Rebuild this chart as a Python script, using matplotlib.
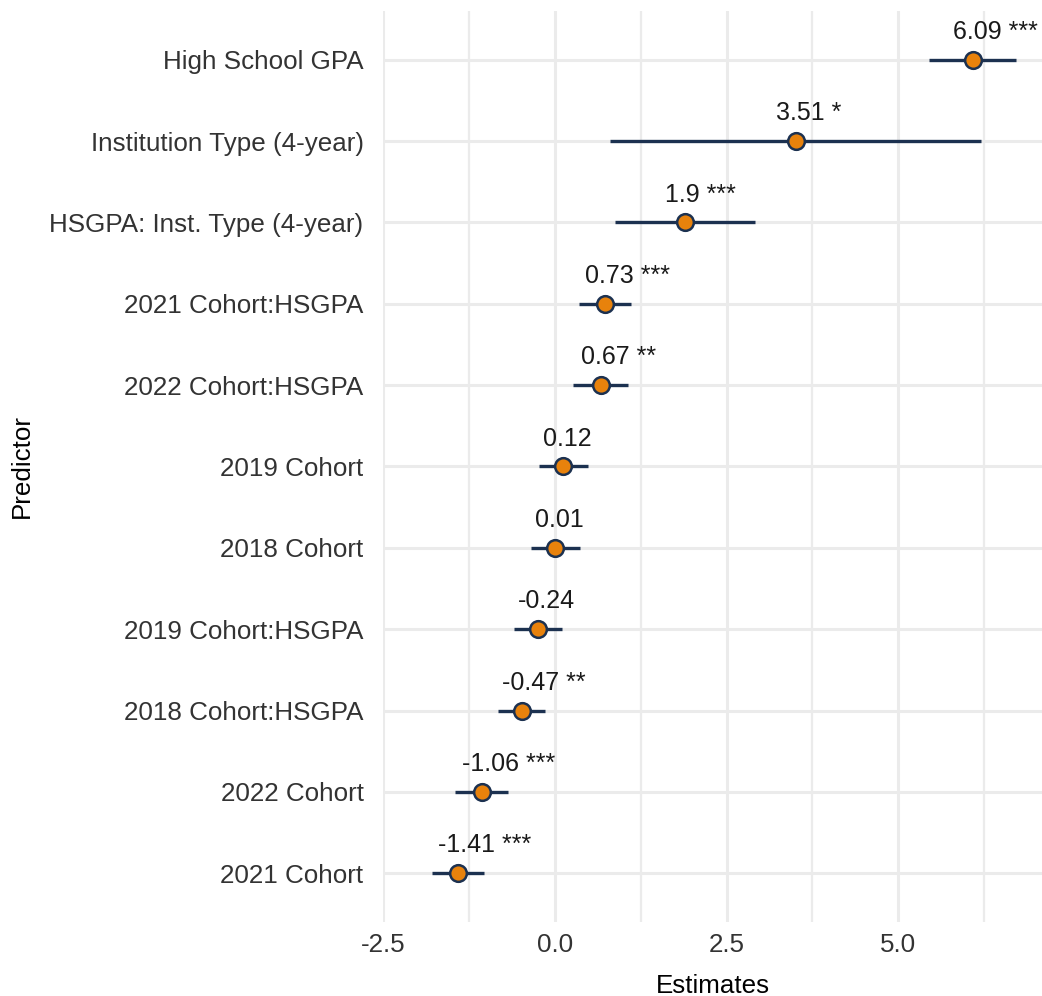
"""
Coefficient plot of the predictors with 95% intervals and significance stars.
"""

import matplotlib

matplotlib.use("Agg")
import matplotlib.pyplot as plt
from matplotlib.ticker import MultipleLocator

plt.rcParams["font.family"] = ["Liberation Sans", "DejaVu Sans"]
plt.rcParams["axes.unicode_minus"] = False

# Predictors listed from top to bottom as in the figure
predictors = [
    "High School GPA",
    "Institution Type (4-year)",
    "HSGPA: Inst. Type (4-year)",
    "2021 Cohort:HSGPA",
    "2022 Cohort:HSGPA",
    "2019 Cohort",
    "2018 Cohort",
    "2019 Cohort:HSGPA",
    "2018 Cohort:HSGPA",
    "2022 Cohort",
    "2021 Cohort",
]
estimates = [6.09, 3.51, 1.9, 0.73, 0.67, 0.12, 0.01, -0.24, -0.47, -1.06, -1.41]
ci_low = [5.44, 0.80, 0.88, 0.35, 0.26, -0.23, -0.34, -0.60, -0.82, -1.45, -1.78]
ci_high = [6.71, 6.20, 2.92, 1.11, 1.07, 0.48, 0.37, 0.11, -0.14, -0.68, -1.03]
stars = ["***", "*", "***", "***", "**", "", "", "", "**", "***", "***"]

line_col = "#1c3150"
point_col = "#e8820c"
grid_col = "#ebebeb"

n = len(predictors)
ypos = [n - 1 - i for i in range(n)]

fig = plt.figure(figsize=(10.42, 9.96), dpi=100)
ax = fig.add_axes([383 / 1042, 1 - 922 / 996, (1042 - 383) / 1042, (922 - 11) / 996])

ax.hlines(ypos, ci_low, ci_high, color=line_col, lw=2.4, zorder=3)
ax.plot(estimates, ypos, "o", ms=12, mfc=point_col, mec=line_col, mew=1.8,
        linestyle="none", zorder=4)

for est, y, s in zip(estimates, ypos, stars):
    label = f"{est:g} {s}".strip()
    ax.annotate(label, (est, y), xytext=(-14.5, 15), textcoords="offset points",
                ha="left", va="baseline", fontsize=18, color="#1a1a1a")

ax.set_xlim(-2.5, 7.09)
ax.set_ylim(-0.6, n - 0.4)
ax.set_yticks(ypos)
ax.set_yticklabels(predictors)
ax.xaxis.set_major_locator(MultipleLocator(2.5))
ax.xaxis.set_minor_locator(MultipleLocator(1.25))
ax.set_xticks([-2.5, 0.0, 2.5, 5.0])
ax.set_xticklabels(["-2.5", "0.0", "2.5", "5.0"])

ax.grid(True, which="major", color=grid_col, lw=2.2, zorder=0)
ax.grid(True, which="minor", axis="x", color=grid_col, lw=1.6, zorder=0)
ax.set_axisbelow(True)
for sp in ax.spines.values():
    sp.set_visible(False)

ax.tick_params(axis="y", which="both", length=0, pad=14, labelsize=18.7, labelcolor="#333333")
ax.tick_params(axis="x", which="both", length=0, pad=8, labelsize=18.7, labelcolor="#333333")

ax.set_xlabel("Estimates", fontsize=18.7, labelpad=12)
ax.set_ylabel("Predictor", fontsize=18.7)
ax.yaxis.set_label_coords(-0.53, 0.5)

fig.savefig("out.png", dpi=100)
plt.close(fig)
